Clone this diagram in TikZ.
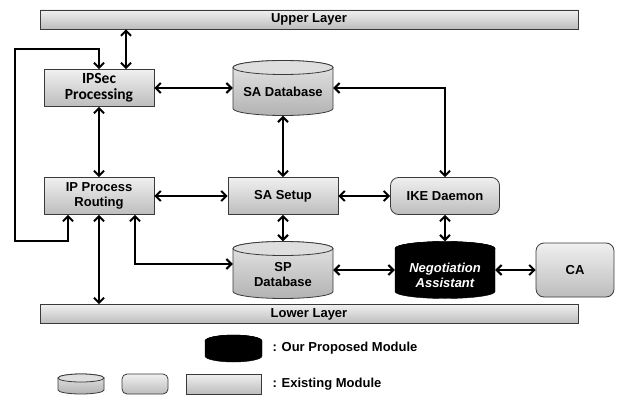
\documentclass[tikz,border=0pt]{standalone}
\usepackage{fontspec}
\setmainfont{Liberation Sans}
\newfontfamily\calib{Carlito}
\usetikzlibrary{arrows.meta,calc}
\definecolor{bord}{HTML}{3A3A3A}
\newcommand\lblfont{\fontsize{13}{15}\selectfont\bfseries}
\tikzset{
 shadebox/.style={draw=bord, line width=0.8pt, top color=white!94!black, bottom color=white!74!black},
 modbox/.style={shadebox, minimum width=110pt, minimum height=37pt, inner sep=0pt, align=center, font=\lblfont},
 rmod/.style={modbox, rounded corners=8pt},
 layerbar/.style={shadebox, minimum width=538pt, minimum height=19pt, inner sep=0pt, font=\lblfont},
 cylbody/.style={draw=bord, line width=0.8pt, top color=white!90!black, bottom color=white!70!black},
 cyltop/.style={draw=bord, line width=0.8pt, fill=white!87!black},
 blkbody/.style={draw=black, fill=black},
 blktop/.style={draw=black, fill=black},
 anchorbox/.style={draw=none, inner sep=0pt},
 lbl/.style={align=center, font=\lblfont},
 conn/.style={line width=2pt, {Straight Barb[length=5pt,width=10pt,line width=2pt]}-{Straight Barb[length=5pt,width=10pt,line width=2pt]}},
}
\newcommand\cylshape[8]{%
 \path[#7] (#2-#4/2,#3+#5/2-#6) -- (#2-#4/2,#3-#5/2+#6) arc[start angle=180,end angle=360,x radius=#4/2,y radius=#6] -- (#2+#4/2,#3+#5/2-#6) arc[start angle=0,end angle=180,x radius=#4/2,y radius=#6] -- cycle;
 \path[#8] (#2,#3+#5/2-#6) ellipse[x radius=#4/2,y radius=#6];
 \node[anchorbox, minimum width=#4pt, minimum height=#5pt] (#1) at (#2,#3) {};
}
\begin{document}
\begin{tikzpicture}[x=1pt,y=1pt]
\fill[white] (0,0) rectangle (617,-396);
\useasboundingbox (0,0) rectangle (617,-396);
% layers
\node[layerbar] (upper) at (309,-19.5) {Upper Layer};
\node[layerbar] (lower) at (309,-314) {Lower Layer};
% modules
\node[modbox, font=\calib\fontsize{15.5}{16}\selectfont\bfseries] (ipsec) at (99,-88) {IPSec\\Processing};
\node[modbox] (iprt) at (99,-196) {IP Process\\Routing};
\node[modbox] (sasetup) at (283,-196) {SA Setup};
\node[rmod, minimum width=109pt] (ike) at (445,-196) {IKE Daemon};
\node[rmod, minimum width=78pt, minimum height=54pt] (ca) at (575,-270) {CA};
\cylshape{sadb}{283}{-88}{100}{55}{7}{cylbody}{cyltop}
\node[lbl] (sadbt) at (283,-92) {SA Database};
\cylshape{spdb}{283}{-270}{100}{57}{7}{cylbody}{cyltop}
\node[lbl] (spdbt) at (283,-275) {SP\\Database};
\cylshape{neg}{445}{-270}{100}{57}{7}{blkbody}{blktop}
\node[lbl, text=white, font=\lblfont\itshape] (negt) at (445,-275.5) {Negotiation\\Assistant};
% legend
\cylshape{legnew}{233.5}{-348.5}{57}{27}{6}{blkbody}{blktop}
\node[lbl, anchor=west] (legnewt) at (269,-348.5) {: Our Proposed Module};
\cylshape{legcyl}{81}{-384}{46}{20}{4}{cylbody}{cyltop}
\node[shadebox, rounded corners=5pt, minimum width=46pt, minimum height=20pt, inner sep=0pt] (legrnd) at (145,-384) {};
\node[shadebox, minimum width=75pt, minimum height=20pt, inner sep=0pt] (legrect) at (223.5,-384) {};
\node[lbl, anchor=west] (legoldt) at (269,-384) {: Existing Module};
% helper coordinates
\coordinate (cx126) at (126,0);
\coordinate (lt) at (15,-49);
\coordinate (lb) at (15,-241);
\coordinate (cx68) at (68,0);
\coordinate (cx135) at (135,0);
\coordinate (cy264) at (0,-264);
% connectors
\draw[conn] (upper.south -| cx126) -- (ipsec.north -| cx126);
\draw[conn] (ipsec.north) |- (lt) -- (lb) -| (iprt.south -| cx68);
\draw[conn] (ipsec.east) -- (sadb.west);
\draw[conn] (ipsec.south) -- (iprt.north);
\draw[conn] (sadb.south) -- (sasetup.north);
\draw[conn] (sadb.east) -| (ike.north);
\draw[conn] (iprt.east) -- (sasetup.west);
\draw[conn] (sasetup.east) -- (ike.west);
\draw[conn] (sasetup.south) -- (spdb.north);
\draw[conn] (ike.south) -- (neg.north);
\draw[conn] (iprt.south -| cx135) |- (spdb.west |- cy264);
\draw[conn] (iprt.south) -- (iprt.south |- lower.north);
\draw[conn] (spdb.east) -- (neg.west);
\draw[conn] (neg.east) -- (neg.east -| ca.west);
\end{tikzpicture}
\end{document}
